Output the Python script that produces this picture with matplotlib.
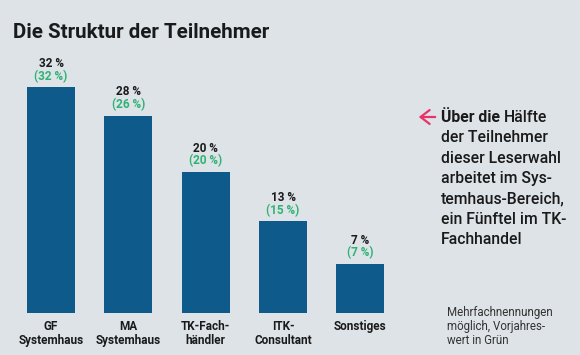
import matplotlib.pyplot as plt

# data
categories = ["GF\nSystemhaus", "MA\nSystemhaus", "TK-Fach-\nhändler", "ITK-\nConsultant", "Sonstiges"]
values = [32, 28, 20, 13, 7]
prev_values = [32, 26, 20, 15, 7]

bg = "#dde3e7"
bar_col = "#0e5a8a"
green = "#2fb274"
dark = "#1a1a1a"

plt.rcParams['font.family'] = ['Roboto', 'DejaVu Sans']

fig = plt.figure(figsize=(5.8, 3.55), dpi=100, facecolor=bg)
ax = fig.add_axes([0, 0, 1, 1])
ax.set_facecolor(bg)
ax.set_xlim(-0.66, 6.84)
ax.set_ylim(-5.96, 44.4)
ax.axis('off')

x = range(len(values))
ax.bar(x, values, width=0.62, color=bar_col)

for i, (v, p) in enumerate(zip(values, prev_values)):
    ax.annotate(f"{v} %", (i, v), xytext=(0, 17), textcoords='offset points',
                ha='center', va='center', fontsize=8.5, fontweight='bold', color=dark)
    ax.annotate(f"({p} %)", (i, v), xytext=(0, 8), textcoords='offset points',
                ha='center', va='center', fontsize=8.5, fontweight='bold', color=green)
    ax.annotate(categories[i], (i, 0), xytext=(0, -5), textcoords='offset points',
                ha='center', va='top', fontsize=8.5, fontweight='bold', color=dark,
                linespacing=1.1)

# title
fig.text(13 / 580, 1 - 33 / 355, "Die Struktur der Teilnehmer", ha='left', va='center',
         fontsize=14.8, fontweight='bold', color=dark)

# arrow and side note
fig.patches.append(plt.matplotlib.patches.FancyArrowPatch(
    (438 / 580, 1 - 117 / 355), (416 / 580, 1 - 117 / 355), transform=fig.transFigure,
    arrowstyle='->,head_length=6.5,head_width=5', color="#e8336a", lw=1.6))

renderer = fig.canvas.get_renderer()
tx = 441 / 580
ty = 1 - 117 / 355
t1 = fig.text(tx, ty, "Über die ", ha='left', va='center', fontsize=11.3,
              fontweight='bold', color=dark)
bb = t1.get_window_extent(renderer=renderer)
fig.text(bb.x1 / fig.bbox.width, ty, "Hälfte", ha='left', va='center', fontsize=11.3,
         fontweight='medium', color=dark)

side_lines = ["der Teilnehmer", "dieser Leserwahl", "arbeitet im Sys-",
              "temhaus-Bereich,", "ein Fünftel im TK-", "Fachhandel"]
for k, line in enumerate(side_lines):
    fig.text(tx, 1 - (117 + 20.5 * (k + 1)) / 355, line, ha='left', va='center',
             fontsize=11.3, fontweight='medium', color=dark)

fig.text(447 / 580, 1 - 306 / 355, "Mehrfachnennungen\nmöglich, Vorjahres-\nwert in Grün",
         ha='left', va='top', fontsize=8.3, color="#333333", linespacing=1.1)

fig.savefig("out.png", dpi=100, facecolor=bg)
